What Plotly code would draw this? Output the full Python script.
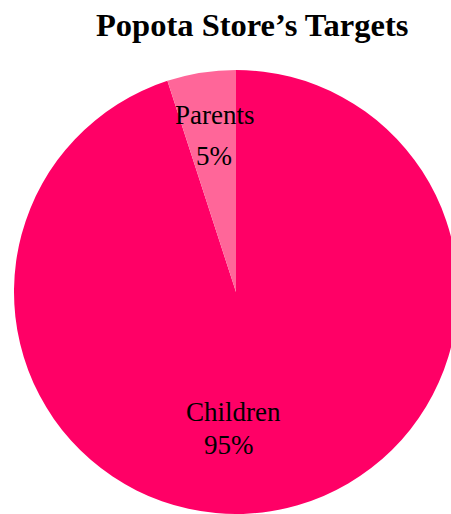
import plotly.graph_objects as go

labels = ["Children", "Parents"]
values = [95, 5]
colors = ["#FF0066", "#FF6699"]

W, H = 460, 514
cx, cy, R = 236, 292, 222

fig = go.Figure(go.Pie(
    labels=labels, values=values, sort=False, direction="clockwise",
    rotation=0, textinfo="none", hoverinfo="label+percent",
    marker=dict(colors=colors, line=dict(width=0)),
    domain=dict(x=[(cx - R) / W, (cx + R) / W], y=[(H - cy - R) / H, (H - cy + R) / H]),
    showlegend=False,
))

total = sum(values)
# label placement (pixel centres) per slice: name line and percent line
label_pos = {"Parents": [(214, 115), (214, 156)], "Children": [(234, 412), (229, 445)]}
for lab, val in zip(labels, values):
    (x1, y1), (x2, y2) = label_pos[lab]
    pct = f"{round(100 * val / total)}%"
    for txt, px, py in [(lab, x1, y1), (pct, x2, y2)]:
        fig.add_annotation(text=txt, x=px / W, y=1 - py / H, xref="paper", yref="paper",
                           xanchor="center", yanchor="middle", showarrow=False,
                           font=dict(family="Liberation Serif", size=27, color="black"))

fig.add_annotation(text="<b>Popota Store’s Targets</b>", x=252 / W, y=1 - 25 / H,
                   xref="paper", yref="paper", xanchor="center", yanchor="middle",
                   showarrow=False,
                   font=dict(family="Liberation Serif", size=32.5, color="black"))

fig.update_layout(width=W, height=H, margin=dict(l=0, r=0, t=0, b=0),
                  paper_bgcolor="white", plot_bgcolor="white")
fig.write_html("out.html")
